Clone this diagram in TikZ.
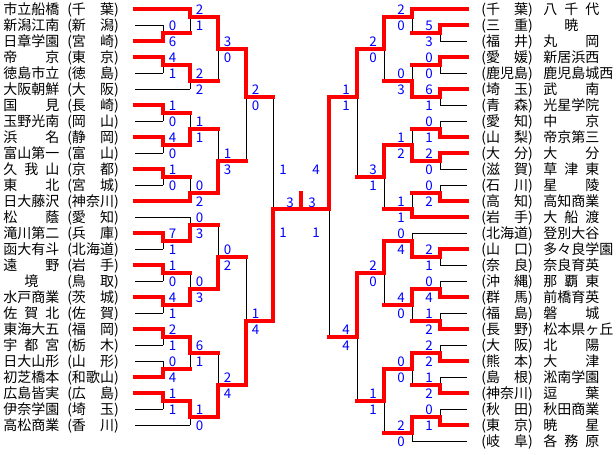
\documentclass[tikz,border=0pt]{standalone}
\usepackage{fontspec}
\setmainfont{Noto Sans CJK JP}
\usepackage{tikz}

\newcommand\hsp{\hspace{.5em}}
\tikzset{
	win/.style={red, line width=3pt, line cap=rect},
	lose/.style={black, line width=0.75pt},
	score/.style={blue, inner sep=0pt, font=\fontsize{10}{12}\selectfont},
	team/.style={inner sep=0pt, anchor=west, text height=.88em, text depth=.12em, font=\fontsize{10.5}{12}\selectfont}
}
% games: x of match / y out / y of winner / y of loser / x next / top score / bottom score
\def\leftgames{163/33/41/25/190/0/6, 190/17/9/33/218/2/1, 163/65/57/73/190/4/1,
	190/81/65/89/218/2/2, 218/49/17/81/246/3/0, 163/113/105/121/190/1/0,
	163/145/137/153/190/4/0, 190/129/145/113/218/1/1, 163/177/169/185/190/1/0,
	190/193/201/177/218/0/2, 218/161/193/129/246/1/3, 246/97/49/161/273/2/0,
	163/241/233/249/190/7/1, 190/225/241/217/218/0/3, 163/273/265/281/190/1/0,
	163/305/297/313/190/4/1, 190/289/305/273/218/0/3, 218/257/289/225/246/0/2,
	163/337/329/345/190/2/1, 163/369/377/361/190/0/4, 190/353/337/369/218/6/1,
	163/401/393/409/190/1/1, 190/417/401/425/218/1/0, 218/385/417/353/246/2/4,
	246/321/385/257/273/1/4}
\def\rightgames{440/33/25/41/412/5/3, 412/17/9/33/384/2/0, 440/65/57/73/412/0/0,
	440/97/89/105/412/6/1, 412/81/97/65/384/0/3, 384/49/17/81/357/2/0,
	440/129/137/121/412/0/1, 440/161/153/169/412/2/0, 412/145/161/129/384/1/2,
	440/193/201/185/412/0/2, 412/209/217/193/384/1/1, 384/177/145/209/357/3/1,
	357/97/49/177/329/1/1, 440/257/249/265/412/2/1, 412/241/257/233/384/0/4,
	440/289/297/281/412/0/4, 440/321/329/313/412/1/2, 412/305/289/321/384/4/0,
	384/273/241/305/357/2/0, 440/353/361/345/412/2/2, 440/385/393/377/412/1/2,
	412/369/353/385/384/0/0, 440/417/425/409/412/0/1, 412/433/417/441/384/2/0,
	384/401/369/433/357/1/1, 357/337/273/401/329/4/4}

\begin{document}
\begin{tikzpicture}[x=0.75pt, y=-0.75pt]
	\useasboundingbox (0,0) rectangle (616,454);
	% teams
	\foreach \i/\nm/\pf in {0/市立船橋/千　葉, 1/新潟江南/新　潟, 2/日章学園/宮　崎, 3/帝　　京/東　京,
		4/徳島市立/徳　島, 5/大阪朝鮮/大　阪, 6/国　　見/長　崎, 7/玉野光南/岡　山, 8/浜　　名/静　岡,
		9/富山第一/富　山, 10/久\hsp{}我\hsp{}山/京　都, 11/東　　北/宮　城, 12/日大藤沢/神奈川,
		13/松　　蔭/愛　知, 14/滝川第二/兵　庫, 15/函大有斗/北海道, 16/遠　　野/岩　手,
		17/\hspace{1.5em}境/鳥　取, 18/水戸商業/茨　城, 19/佐\hsp{}賀\hsp{}北/佐　賀, 20/東海大五/福　岡,
		21/宇\hsp{}都\hsp{}宮/栃　木, 22/日大山形/山　形, 23/初芝橋本/和歌山, 24/広島皆実/広　島,
		25/伊奈学園/埼　玉, 26/高松商業/香　川} {
		\node[team] (ln\i) at (3,{9.5+16*\i}) {\nm};
		\node[team] (lp\i) at (67,{9.5+16*\i}) {(\pf)};
	}
	\foreach \i/\pf/\nm in {0/千　葉/八\hsp{}千\hsp{}代, 1/三　重/\hspace{1.5em}暁, 2/福　井/丸　　岡,
		3/愛　媛/新居浜西, 4/鹿児島/鹿児島城西, 5/埼　玉/武　　南, 6/青　森/光星学院, 7/愛　知/中　　京,
		8/山　梨/帝京第三, 9/大　分/大　　分, 10/滋　賀/草\hsp{}津\hsp{}東, 11/石　川/星　　陵,
		12/高　知/高知商業, 13/岩　手/大\hsp{}船\hsp{}渡, 14/北海道/登別大谷, 15/山　口/多々良学園,
		16/奈　良/奈良育英, 17/沖　縄/那\hsp{}覇\hsp{}東, 18/群　馬/前橋育英, 19/福　島/磐　　城,
		20/長　野/松本県ヶ丘, 21/大　阪/北　　陽, 22/熊　本/大　　津, 23/島　根/淞南学園,
		24/神奈川/逗　　葉, 25/秋　田/秋田商業, 26/東　京/暁　　星, 27/岐　阜/各\hsp{}務\hsp{}原} {
		\node[team] (rp\i) at (481,{9.5+16*\i}) {(\pf)};
		\node[team] (rn\i) at (543,{9.5+16*\i}) {\nm};
	}
	% team lines
	\foreach \i/\lc/\e in {0/win/190, 1/lose/163, 2/win/163, 3/win/163, 4/lose/163, 5/lose/190,
		6/win/163, 7/lose/163, 8/win/163, 9/lose/163, 10/win/163, 11/lose/163, 12/win/190, 13/lose/190,
		14/win/163, 15/lose/163, 16/win/163, 17/lose/163, 18/win/163, 19/lose/163, 20/win/163,
		21/lose/163, 22/lose/163, 23/win/163, 24/win/163, 25/lose/163, 26/lose/190}
		\draw[\lc] (135,{9+16*\i}) -- (\e,{9+16*\i});
	\foreach \i/\lc/\e in {0/win/412, 1/win/440, 2/lose/440, 3/win/440, 4/lose/440, 5/win/440,
		6/lose/440, 7/lose/440, 8/win/440, 9/win/440, 10/lose/440, 11/lose/440, 12/win/440, 13/win/412,
		14/lose/412, 15/win/440, 16/lose/440, 17/lose/440, 18/win/440, 19/lose/440, 20/win/440,
		21/lose/440, 22/win/440, 23/lose/440, 24/win/440, 25/lose/440, 26/win/440, 27/lose/412}
		\draw[\lc] (467,{9+16*\i}) -- (\e,{9+16*\i});
	% losers
	\foreach \gx/\gy/\wy/\ly/\nx/\ta/\tb in \leftgames
		\draw[lose] (\gx,\ly) -- (\gx,\gy);
	\foreach \gx/\gy/\wy/\ly/\nx/\ta/\tb in \rightgames
		\draw[lose] (\gx,\ly) -- (\gx,\gy);
	\draw[lose] (273,97) -- (273,209);
	\draw[lose] (329,337) -- (329,209);
	% winners and scores
	\foreach \gx/\gy/\wy/\ly/\nx/\ta/\tb in \leftgames {
		\draw[win] (\gx,\wy) -- (\gx,\gy) -- (\nx,\gy);
		\node[score] (sa\gx-\gy) at ({\gx+9.5},{\gy-7}) {\ta};
		\node[score] (sb\gx-\gy) at ({\gx+9.5},{\gy+9}) {\tb};
	}
	\foreach \gx/\gy/\wy/\ly/\nx/\ta/\tb in \rightgames {
		\draw[win] (\gx,\wy) -- (\gx,\gy) -- (\nx,\gy);
		\node[score] (sa\gx-\gy) at ({\gx-11},{\gy-7}) {\ta};
		\node[score] (sb\gx-\gy) at ({\gx-11},{\gy+9}) {\tb};
	}
	% final
	\draw[win] (273,321) -- (273,209) -- (329,209) -- (329,97);
	\draw[win] (301,193) -- (301,209);
	\node[score] (semiLa) at (283,170) {1};
	\node[score] (semiLb) at (283,233) {1};
	\node[score] (semiRa) at (316,170) {4};
	\node[score] (semiRb) at (316,233) {1};
	\node[score] (finL) at (290,203) {3};
	\node[score] (finR) at (312,203) {3};
\end{tikzpicture}
\end{document}
